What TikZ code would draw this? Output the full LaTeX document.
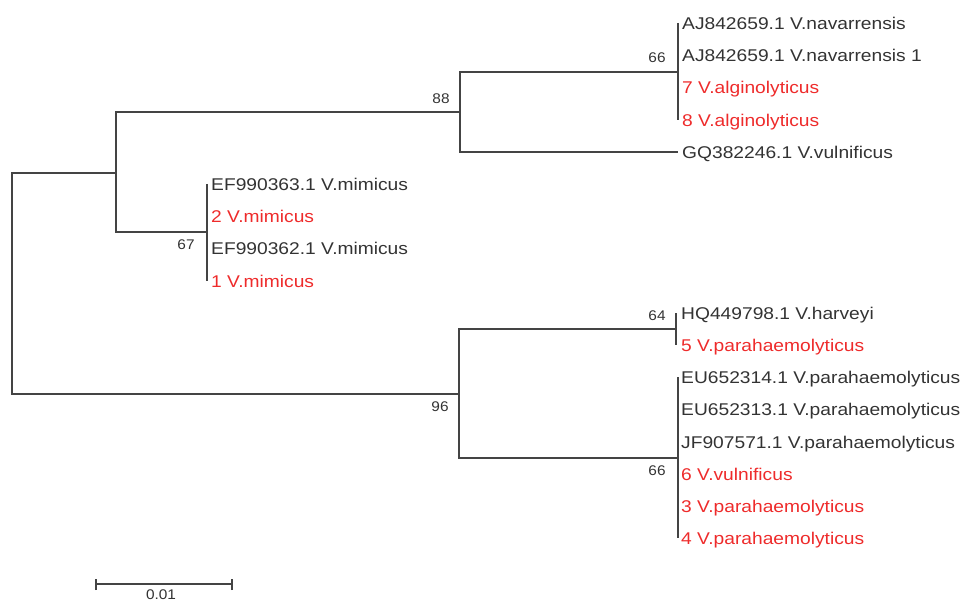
\documentclass[tikz,border=0pt]{standalone}
\usepackage{fontspec}
\usepackage{graphicx}
\setmainfont{Liberation Sans}
\definecolor{treeline}{HTML}{444444}
\definecolor{leafdark}{HTML}{333333}
\definecolor{leafred}{HTML}{EE2B2B}
\newcommand\leaftxt[1]{\scalebox{1.13}[1]{#1}}
\newcommand\boottxt[1]{\scalebox{1.1}[1]{#1}}
\tikzset{
  branch/.style={draw=treeline, line width=1.4pt},
  leafbase/.style={anchor=base west, inner sep=0pt, font=\fontsize{17}{17}\selectfont},
  leafk/.style={leafbase, text=leafdark},
  leafr/.style={leafbase, text=leafred},
  boot/.style={inner sep=0pt, text=leafdark, font=\fontsize{14}{14}\selectfont},
}
\begin{document}
\begin{tikzpicture}[x=1pt, y=-1pt]
\useasboundingbox (0,0) rectangle (973,601);
% internal nodes
\coordinate (root) at (12,283);
\coordinate (nA) at (116,173);
\coordinate (n88) at (460,112);
\coordinate (n66a) at (678,72);
\coordinate (n67) at (207,232);
\coordinate (n96) at (459,394);
\coordinate (n64) at (676,329);
\coordinate (n66b) at (678,458);
% leaf tips
\coordinate (t1) at (678,23);
\coordinate (t4) at (678,120);
\coordinate (tgq) at (678,152);
\coordinate (t6) at (207,184);
\coordinate (t9) at (207,281);
\coordinate (t10) at (676,313);
\coordinate (t11) at (676,345);
\coordinate (t12) at (678,377);
\coordinate (t17) at (678,538);
% branches
\draw[branch] (root) |- (nA);
\draw[branch] (root) |- (n96);
\draw[branch] (nA) |- (n88);
\draw[branch] (nA) |- (n67);
\draw[branch] (n88) |- (n66a);
\draw[branch] (n88) |- (tgq);
\draw[branch] (n96) |- (n64);
\draw[branch] (n96) |- (n66b);
\draw[branch] (t1) -- (t4);
\draw[branch] (t6) -- (t9);
\draw[branch] (t10) -- (t11);
\draw[branch] (t12) -- (t17);
% leaf labels
\node[leafk] (l1) at (682,29.5) {\leaftxt{AJ842659.1 V.navarrensis}};
\node[leafk] (l2) at (682,61.7) {\leaftxt{AJ842659.1 V.navarrensis 1}};
\node[leafr] (l3) at (682,93.9) {\leaftxt{7 V.alginolyticus}};
\node[leafr] (l4) at (682,126.1) {\leaftxt{8 V.alginolyticus}};
\node[leafk] (l5) at (682,158.3) {\leaftxt{GQ382246.1 V.vulnificus}};
\node[leafk] (l6) at (211,190.5) {\leaftxt{EF990363.1 V.mimicus}};
\node[leafr] (l7) at (211,222.7) {\leaftxt{2 V.mimicus}};
\node[leafk] (l8) at (211,254.9) {\leaftxt{EF990362.1 V.mimicus}};
\node[leafr] (l9) at (211,287.1) {\leaftxt{1 V.mimicus}};
\node[leafk] (l10) at (681,319.3) {\leaftxt{HQ449798.1 V.harveyi}};
\node[leafr] (l11) at (681,351.5) {\leaftxt{5 V.parahaemolyticus}};
\node[leafk] (l12) at (681,383.7) {\leaftxt{EU652314.1 V.parahaemolyticus}};
\node[leafk] (l13) at (681,415.9) {\leaftxt{EU652313.1 V.parahaemolyticus}};
\node[leafk] (l14) at (681,448.1) {\leaftxt{JF907571.1 V.parahaemolyticus}};
\node[leafr] (l15) at (681,480.3) {\leaftxt{6 V.vulnificus}};
\node[leafr] (l16) at (681,512.5) {\leaftxt{3 V.parahaemolyticus}};
\node[leafr] (l17) at (681,544.7) {\leaftxt{4 V.parahaemolyticus}};
% bootstrap values
\node[boot] (b88) at (441,99) {\boottxt{88}};
\node[boot] (b66a) at (657,58) {\boottxt{66}};
\node[boot] (b67) at (186,245) {\boottxt{67}};
\node[boot] (b64) at (657,316) {\boottxt{64}};
\node[boot] (b66b) at (657,471) {\boottxt{66}};
\node[boot] (b96) at (440,407) {\boottxt{96}};
% scale bar
\coordinate (sbl) at (96,584);
\coordinate (sbr) at (232,584);
\draw[branch] (sbl) -- (sbr);
\draw[branch] ([yshift=-6pt]sbl) -- ([yshift=5pt]sbl);
\draw[branch] ([yshift=-6pt]sbr) -- ([yshift=5pt]sbr);
\node[boot] (sblabel) at (161,594.5) {\boottxt{0.01}};
\end{tikzpicture}
\end{document}
